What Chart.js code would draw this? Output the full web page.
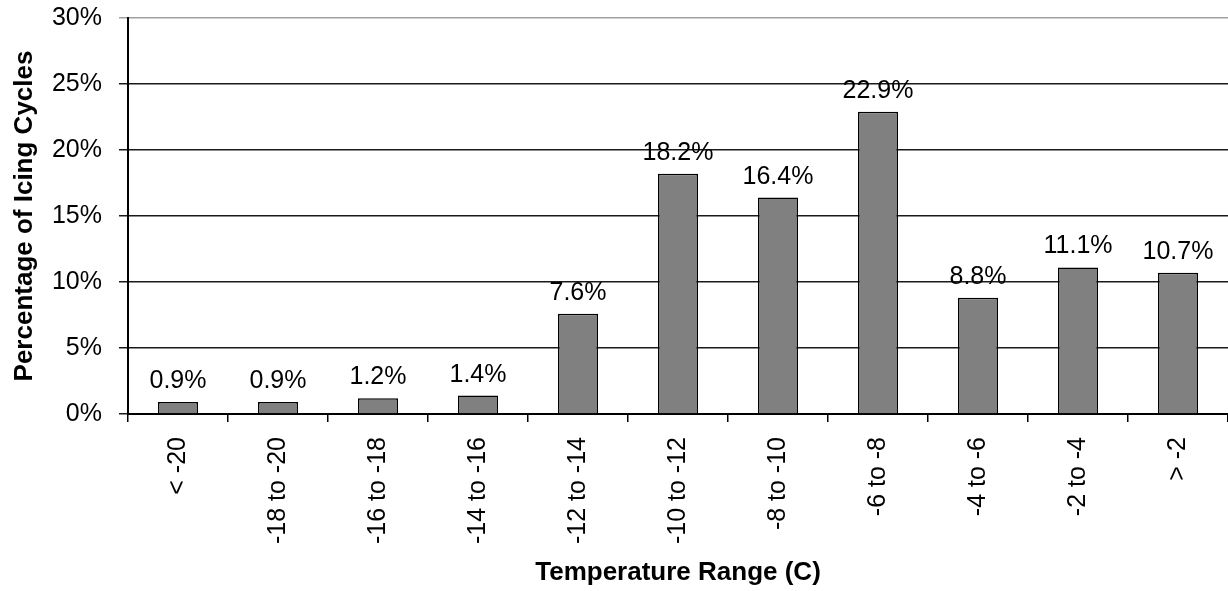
<!DOCTYPE html>
<html>
<head>
<meta charset="utf-8">
<script src="https://cdn.jsdelivr.net/npm/chart.js@4/dist/chart.umd.min.js"></script>
<style>
  html, body { margin: 0; padding: 0; background: #fff; }
  #c { display: block; }
</style>
</head>
<body>
<canvas id="c" width="1228" height="591"></canvas>
<script>
// Temperature bins and share of icing cycles (percent)
const categories = ['< -20', '-18 to -20', '-16 to -18', '-14 to -16', '-12 to -14',
  '-10 to -12', '-8 to -10', '-6 to -8', '-4 to -6', '-2 to -4', '> -2'];
const icingShare = [0.9, 0.9, 1.2, 1.4, 7.6, 18.2, 16.4, 22.9, 8.8, 11.1, 10.7];
const yTicks = [0, 5, 10, 15, 20, 25, 30];

const FONT = '"Liberation Sans", Arial, sans-serif';

// Writes each bar's value just above it
const valueLabels = {
  id: 'valueLabels',
  afterDatasetsDraw(chart) {
    const { ctx } = chart;
    const meta = chart.getDatasetMeta(0);
    ctx.save();
    ctx.font = '25px ' + FONT;
    ctx.fillStyle = '#000';
    ctx.textAlign = 'center';
    ctx.textBaseline = 'alphabetic';
    meta.data.forEach((bar, i) => {
      const v = chart.data.datasets[0].data[i];
      ctx.fillText(v.toFixed(1) + '%', bar.x, bar.y - 14);
    });
    ctx.restore();
  }
};

new Chart(document.getElementById('c'), {
  type: 'bar',
  data: {
    labels: categories,
    datasets: [{
      data: icingShare,
      backgroundColor: '#808080',
      borderColor: '#000',
      borderWidth: 1.5,
      barPercentage: 0.4,
      categoryPercentage: 1.0
    }]
  },
  options: {
    responsive: false,
    animation: false,
    devicePixelRatio: 1,
    layout: { padding: { top: 18, right: 0, bottom: 0, left: 0 } },
    plugins: {
      legend: { display: false },
      tooltip: { enabled: false }
    },
    scales: {
      x: {
        offset: true,
        grid: {
          offset: true,
          drawOnChartArea: false,
          drawTicks: true,
          tickLength: 8,
          color: '#000',
          lineWidth: 1.5
        },
        border: { display: true, color: '#000', width: 2 },
        ticks: {
          color: '#000',
          font: { family: FONT, size: 25 },
          minRotation: 90,
          maxRotation: 90,
          autoSkip: false,
          padding: 15
        },
        title: {
          display: true,
          text: 'Temperature Range (C)',
          color: '#000',
          font: { family: FONT, size: 26, weight: 'bold' },
          padding: { top: 0, bottom: 3 }
        },
        afterFit(scale) {
          scale.height = 177;
          scale.paddingLeft = 0;
          scale.paddingRight = 0;
        }
      },
      y: {
        min: 0,
        max: 30,
        afterBuildTicks(scale) { scale.ticks = yTicks.map(v => ({ value: v })); },
        grid: {
          color: (c) => (c.tick && c.tick.value === 30 ? '#a0a0a0' : '#1a1a1a'),
          lineWidth: 1.5,
          drawTicks: true,
          tickLength: 9
        },
        border: { display: true, color: '#000', width: 2 },
        ticks: {
          color: '#000',
          font: { family: FONT, size: 25 },
          padding: 17,
          callback: (v) => v + '%'
        },
        title: {
          display: true,
          text: 'Percentage of Icing Cycles',
          color: '#000',
          font: { family: FONT, size: 26, weight: 'bold' },
          padding: { top: 9, bottom: 0 }
        },
        afterFit(scale) {
          scale.width = 128;
          scale.paddingTop = 0;
          scale.paddingBottom = 0;
        }
      }
    }
  },
  plugins: [valueLabels]
});
</script>
</body>
</html>
